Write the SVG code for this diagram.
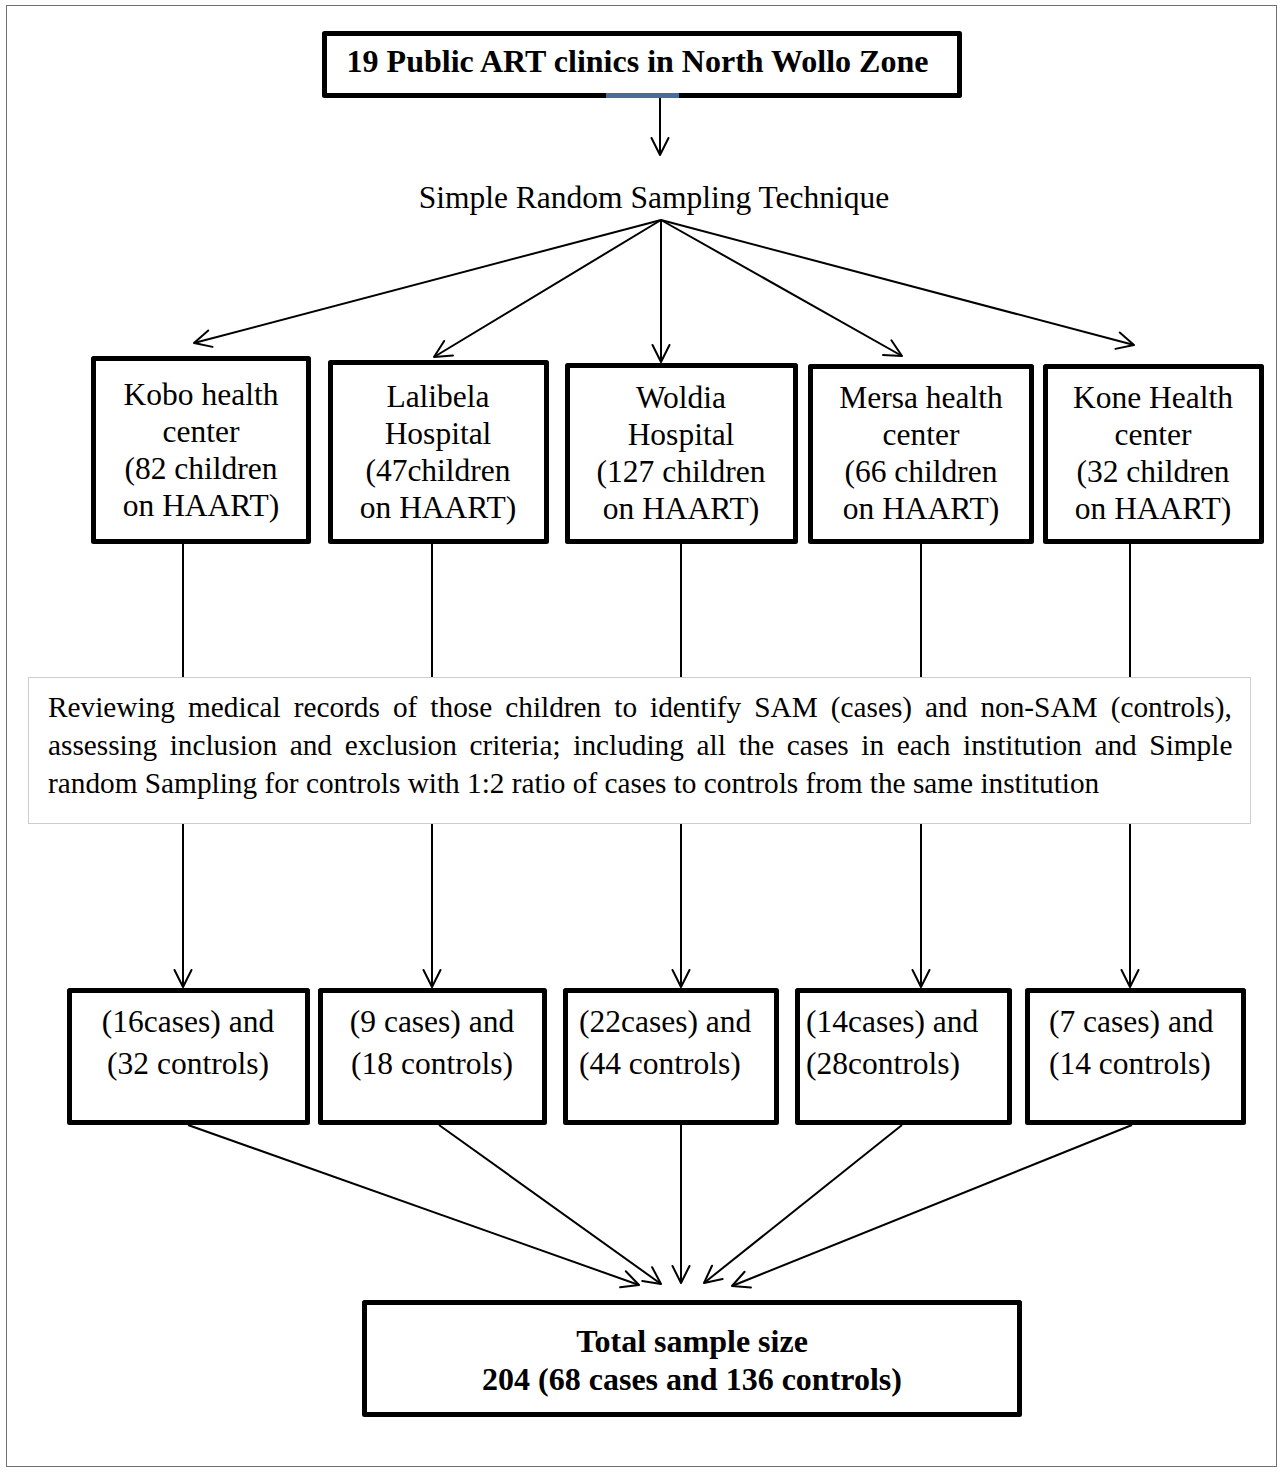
<svg xmlns="http://www.w3.org/2000/svg" width="1282" height="1471" viewBox="0 0 1282 1471">
<style>
  text { font-family: "Liberation Serif", "Times New Roman", serif; fill: #000; }
  .t { font-size: 31.5px; text-anchor: middle; }
  .ts { font-size: 31.5px; text-anchor: start; }
  .b { font-size: 32px; font-weight: bold; text-anchor: middle; }
  .mid { font-size: 29.3px; }
  .box { fill: #fff; stroke: #000; stroke-width: 5; stroke-linejoin: round; }
  .dot { fill: #fff; stroke: #9a9a9a; stroke-width: 1; stroke-dasharray: 1 1; }
  .ln { stroke: #000; stroke-width: 2; fill: none; }
  .arr { stroke: #000; stroke-width: 2; fill: none; marker-end: url(#ah); }
</style>
<defs>
  <marker id="ah" markerUnits="userSpaceOnUse" markerWidth="40" markerHeight="40" viewBox="-20 -20 40 40" refX="0" refY="0" orient="auto">
    <path d="M -17 -8.5 L 0 0 L -17 8.5" fill="none" stroke="#000" stroke-width="2" stroke-linecap="round" stroke-linejoin="round"/>
  </marker>
</defs>
<rect x="0" y="0" width="1282" height="1471" fill="#fff"/>
<rect x="6.5" y="5.5" width="1270" height="1461" fill="none" stroke="#707070" stroke-width="1"/>

<g id="connectors">
  <line class="arr" x1="660" y1="98" x2="660" y2="155"/>
  <line class="arr" x1="661" y1="220" x2="194" y2="343"/>
  <line class="arr" x1="661" y1="220" x2="434" y2="357"/>
  <line class="arr" x1="661" y1="220" x2="661" y2="362"/>
  <line class="arr" x1="661" y1="220" x2="902" y2="356"/>
  <line class="arr" x1="661" y1="220" x2="1134" y2="345"/>
  <line class="ln" x1="183" y1="544" x2="183" y2="677"/>
  <line class="ln" x1="432" y1="544" x2="432" y2="677"/>
  <line class="ln" x1="681" y1="544" x2="681" y2="677"/>
  <line class="ln" x1="921" y1="544" x2="921" y2="677"/>
  <line class="ln" x1="1130" y1="544" x2="1130" y2="677"/>
  <line class="arr" x1="183" y1="824" x2="183" y2="987"/>
  <line class="arr" x1="432" y1="824" x2="432" y2="987"/>
  <line class="arr" x1="681" y1="824" x2="681" y2="987"/>
  <line class="arr" x1="921" y1="824" x2="921" y2="987"/>
  <line class="arr" x1="1130" y1="824" x2="1130" y2="987"/>
  <line class="arr" x1="188" y1="1125" x2="639" y2="1285"/>
  <line class="arr" x1="439" y1="1125" x2="661" y2="1284"/>
  <line class="arr" x1="681" y1="1125" x2="681" y2="1283"/>
  <line class="arr" x1="902" y1="1125" x2="704" y2="1283"/>
  <line class="arr" x1="1132" y1="1125" x2="732" y2="1286"/>
</g>

<g id="top">
  <rect class="box" x="324.5" y="33.5" width="635" height="62"/>
  <rect x="606" y="93" width="73" height="5" fill="#4a6c9b"/>
  <text class="b" x="637.5" y="72">19 Public ART clinics in North Wollo Zone</text>
</g>

<g id="srs">
  <text class="t" x="654" y="208">Simple Random Sampling Technique</text>
</g>

<g id="kobo">
  <rect class="box" x="93.5" y="358.5" width="215" height="183"/>
  <text class="t" x="201"><tspan x="201" y="405">Kobo health</tspan><tspan x="201" y="442">center</tspan><tspan x="201" y="479">(82 children</tspan><tspan x="201" y="516">on HAART)</tspan></text>
</g>
<g id="lalibela">
  <rect class="box" x="330.5" y="362.5" width="216" height="179"/>
  <text class="t"><tspan x="438" y="407">Lalibela</tspan><tspan x="438" y="444">Hospital</tspan><tspan x="438" y="481">(47children</tspan><tspan x="438" y="518">on HAART)</tspan></text>
</g>
<g id="woldia">
  <rect class="box" x="567.5" y="365.5" width="228" height="176"/>
  <text class="t"><tspan x="681" y="408">Woldia</tspan><tspan x="681" y="445">Hospital</tspan><tspan x="681" y="482">(127 children</tspan><tspan x="681" y="519">on HAART)</tspan></text>
</g>
<g id="mersa">
  <rect class="box" x="810.5" y="366.5" width="221" height="175"/>
  <text class="t"><tspan x="921" y="408">Mersa health</tspan><tspan x="921" y="445">center</tspan><tspan x="921" y="482">(66 children</tspan><tspan x="921" y="519">on HAART)</tspan></text>
</g>
<g id="kone">
  <rect class="box" x="1045.5" y="366.5" width="216" height="175"/>
  <text class="t"><tspan x="1153" y="408">Kone Health</tspan><tspan x="1153" y="445">center</tspan><tspan x="1153" y="482">(32 children</tspan><tspan x="1153" y="519">on HAART)</tspan></text>
</g>

<g id="review">
  <rect class="dot" x="28.5" y="677.5" width="1222" height="146"/>
  <text class="mid" x="48" y="717" word-spacing="5.7">Reviewing medical records of those children to identify SAM (cases) and non-SAM (controls),</text>
  <text class="mid" x="48" y="755" word-spacing="5.3">assessing inclusion and exclusion criteria; including all the cases in each institution and Simple</text>
  <text class="mid" x="48" y="793">random Sampling for controls with 1:2 ratio of cases to controls from the same institution</text>
</g>

<g id="r1">
  <rect class="box" x="69.5" y="990.5" width="238" height="132"/>
  <text class="t"><tspan x="188" y="1032">(16cases) and</tspan><tspan x="188" y="1074">(32 controls)</tspan></text>
</g>
<g id="r2">
  <rect class="box" x="320.5" y="990.5" width="224" height="132"/>
  <text class="t"><tspan x="432" y="1032">(9 cases) and</tspan><tspan x="432" y="1074">(18 controls)</tspan></text>
</g>
<g id="r3">
  <rect class="box" x="565.5" y="990.5" width="211" height="132"/>
  <text class="ts"><tspan x="579" y="1032">(22cases) and</tspan><tspan x="579" y="1074">(44 controls)</tspan></text>
</g>
<g id="r4">
  <rect class="box" x="797.5" y="990.5" width="212" height="132"/>
  <text class="ts"><tspan x="806" y="1032">(14cases) and</tspan><tspan x="806" y="1074">(28controls)</tspan></text>
</g>
<g id="r5">
  <rect class="box" x="1027.5" y="990.5" width="216" height="132"/>
  <text class="ts"><tspan x="1049" y="1032">(7 cases) and</tspan><tspan x="1049" y="1074">(14 controls)</tspan></text>
</g>

<g id="total">
  <rect class="box" x="364.5" y="1302.5" width="655" height="112"/>
  <text class="b"><tspan x="692" y="1352">Total sample size</tspan><tspan x="692" y="1390">204 (68 cases and 136 controls)</tspan></text>
</g>
</svg>
